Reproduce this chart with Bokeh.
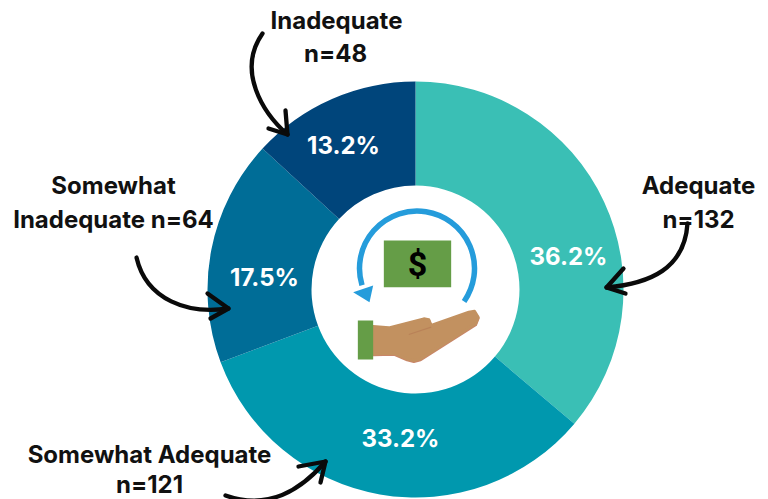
import math
from bokeh.plotting import figure
from bokeh.embed import file_html
from bokeh.resources import INLINE
from bokeh.core.properties import value

# --- chart data ---
categories = ["Adequate", "Somewhat Adequate", "Somewhat Inadequate", "Inadequate"]
counts = [132, 121, 64, 48]
percent_labels = ["36.2%", "33.2%", "17.5%", "13.2%"]
colors = ["#3ABFB5", "#0098AE", "#006D97", "#00457B"]

W, H = 768, 499
FONT = "Inter"

p = figure(width=W, height=H, x_range=(0, W), y_range=(0, H),
           output_backend="svg", toolbar_location=None, min_border=0,
           outline_line_color=None, background_fill_color="white")
p.axis.visible = False
p.grid.visible = False


def X(px):
    return px


def Y(py):
    return 499 - py


CX, CY, R_OUT, R_IN = 415, 289, 208, 104

# donut, clockwise from 12 o'clock
total = sum(counts)
a = math.pi / 2
for n, col in zip(counts, colors):
    b = a - 2 * math.pi * n / total
    p.annular_wedge(x=X(CX), y=Y(CY), inner_radius=R_IN, outer_radius=R_OUT,
                    start_angle=b, end_angle=a, fill_color=col, line_color=None)
    a = b

# percentage labels, placed as in the reference
pct_pos = [(568, 256), (400, 438), (264, 277), (343, 145)]
for lab, (px, py) in zip(percent_labels, pct_pos):
    p.text(x=[X(px)], y=[Y(py)], text=[lab],
           text_color="white", text_font=value(FONT), text_font_style="bold",
           text_font_size="24px", text_align="center", text_baseline="middle")

# outside labels
labels = [
    ("Inadequate", 336, 20), ("n=48", 335, 53),
    ("Somewhat", 113, 185), ("Inadequate n=64", 113, 219),
    ("Adequate", 698, 185), ("n=132", 698, 219),
    ("Somewhat Adequate", 149, 454), ("n=121", 149, 484),
]
for t, px, py in labels:
    p.text(x=[X(px)], y=[Y(py)], text=[t], text_color="#111111", text_font=value(FONT),
           text_font_style="bold", text_font_size="24px",
           text_align="center", text_baseline="middle")

# hand-drawn arrows: bezier + two-stroke head
arrows = [
    ((262, 33), (236, 70), (262, 112), (287, 134), (285, 110), (268, 128)),
    ((136, 257), (146, 300), (188, 314), (228, 308), (207, 293), (210, 318)),
    ((225, 495), (268, 510), (300, 490), (325, 461), (298, 466), (320, 482)),
    ((687, 223), (684, 268), (650, 283), (606, 287), (623, 268), (625, 293)),
]
for s, c0, c1, e, h0, h1 in arrows:
    p.bezier(x0=[X(s[0])], y0=[Y(s[1])], x1=[X(e[0])], y1=[Y(e[1])],
             cx0=[X(c0[0])], cy0=[Y(c0[1])], cx1=[X(c1[0])], cy1=[Y(c1[1])],
             line_color="#0A0A0A", line_width=4.3, line_cap="round")
    p.line([X(h0[0]), X(e[0]), X(h1[0])], [Y(h0[1]), Y(e[1]), Y(h1[1])],
           line_color="#0A0A0A", line_width=4.3, line_cap="round", line_join="round")


# central icon (outlined from a 3x crop origin 300,190)
def zx(v):
    return [X(300 + q / 3) for q in v]


def zy(v):
    return [Y(190 + q / 3) for q in v]


GREEN = "#659D47"
BLUE = "#259CDB"
p.patch(zx([250, 452, 452, 250]), zy([150, 150, 290, 290]), fill_color=GREEN, line_color=None)
p.text(x=zx([351]), y=zy([220]), text=["$"], text_color="black", text_font=value("Roboto"),
       text_font_style="bold", text_font_size="34px", text_align="center", text_baseline="middle")

p.arc(x=[X(416.5)], y=[Y(268)], radius=57.5, start_angle=math.radians(-35),
      end_angle=math.radians(197), line_color=BLUE, line_width=5.5)
p.patch(zx([158, 218, 207]), zy([305, 285, 335]), fill_color=BLUE, line_color=None)

hand_x = [218, 265, 370, 385, 392, 505, 522, 533, 525, 360, 340, 320, 280, 218]
hand_y = [408, 412, 385, 388, 405, 365, 362, 380, 400, 505, 510, 505, 488, 490]
p.patch(zx(hand_x), zy([q + 3 for q in hand_y]), fill_color="#C98569", line_color="#C98569",
        line_width=3, line_join="round")
p.patch(zx(hand_x), zy(hand_y), fill_color="#C29160", line_color="#C29160",
        line_width=3, line_join="round")
p.line(zx([325, 392]), zy([432, 410]), line_color="#B98258", line_width=1.2)
p.patch(zx([172, 218, 218, 172]), zy([390, 390, 507, 507]), fill_color=GREEN, line_color=None)

open("out.html", "w").write(file_html(p, INLINE))
